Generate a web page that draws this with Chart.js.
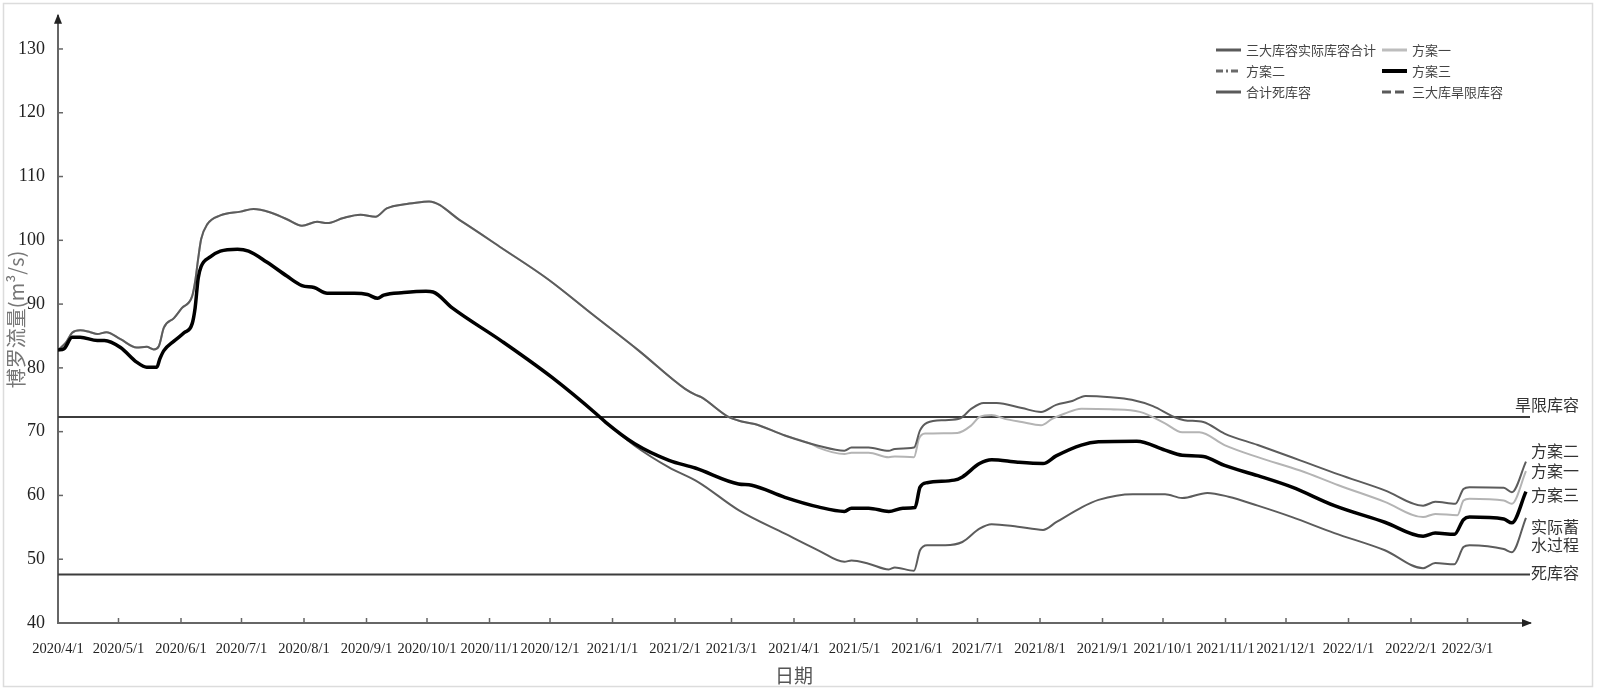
<!DOCTYPE html>
<html>
<head>
<meta charset="utf-8">
<script src="https://cdn.jsdelivr.net/npm/chart.js@4.4.1/dist/chart.umd.min.js"></script>
<style>
  html, body { margin: 0; padding: 0; background: #fff; }
  canvas { display: block; }
</style>
</head>
<body>
<canvas id="storageChart" width="1600" height="691"></canvas>
<script>
// Tick labels on the date axis (month starts)
const monthLabels = ['2020/4/1', '2020/5/1', '2020/6/1', '2020/7/1', '2020/8/1', '2020/9/1',
    '2020/10/1', '2020/11/1', '2020/12/1', '2021/1/1', '2021/2/1', '2021/3/1',
    '2021/4/1', '2021/5/1', '2021/6/1', '2021/7/1', '2021/8/1', '2021/9/1',
    '2021/10/1', '2021/11/1', '2021/12/1', '2022/1/1', '2022/2/1', '2022/3/1'];
const yTickValues = [40, 50, 60, 70, 80, 90, 100, 110, 120, 130];

// Days counted from 2020/4/1
const plan2Days = [0, 4, 7, 11, 16, 19.5, 24, 31, 39, 44, 47.5, 50, 52.5, 57.5, 61.5, 66.5, 68, 69.5, 71, 74,
    80.5, 90.5, 97, 105, 113.5, 121, 128.5, 133.5, 141.5, 150, 157.5, 163, 173, 180.5, 184, 200, 220, 243, 265, 288,
    311, 316, 319, 332.5, 339, 345.5, 360.5, 377, 390, 393.5, 402, 412, 415, 424.5, 427.5, 431, 440, 447.5, 453, 459,
    465.5, 478, 487.5, 495, 503, 509.5, 522, 532.5, 543, 553.5, 558.5, 568, 578.5, 595, 616, 635, 658, 677, 683, 693,
    697, 700, 717, 721, 728];
const plan2Values = [82.8, 84.0, 85.5, 85.9, 85.6, 85.3, 85.6, 84.5, 83.2, 83.3, 82.9, 83.4, 86.3, 87.8, 89.4, 91.2, 93.5, 97.1, 100.2, 102.5,
    103.9, 104.5, 104.9, 104.4, 103.3, 102.3, 102.9, 102.7, 103.5, 104.0, 103.7, 105.0, 105.7, 106.0, 106.1, 103.0, 98.8, 93.9, 88.4, 82.7,
    76.7, 75.8, 75.4, 72.3, 71.6, 71.2, 69.4, 67.8, 67.0, 67.5, 67.5, 67.0, 67.3, 67.5, 70.2, 71.4, 71.8, 72.1, 73.6, 74.5,
    74.5, 73.7, 73.1, 74.2, 74.8, 75.6, 75.4, 75.0, 74.0, 72.3, 71.8, 71.5, 69.7, 67.9, 65.5, 63.3, 60.8, 58.4, 59.0, 58.7,
    61.0, 61.3, 61.2, 60.5, 65.3];

// 方案一 follows 方案二 until spring 2021
const plan1LateDays = [374, 377, 390, 393.5, 402, 412, 415, 424.5, 427, 430, 446, 453, 457, 463, 469.5, 478, 487.5, 493, 499, 507.5,
    522, 536.5, 549, 557.5, 566, 578.5, 595, 616, 635, 658, 677, 683, 694, 697, 700, 717, 721, 728];
const plan1LateValues = [68.0, 67.5, 66.5, 66.7, 66.7, 66.0, 66.1, 66.0, 68.9, 69.7, 69.8, 71.0, 72.3, 72.6, 72.0, 71.5, 71.0, 72.0, 72.8, 73.6,
    73.5, 73.1, 71.3, 69.9, 69.9, 67.9, 66.0, 63.9, 61.6, 59.0, 56.6, 57.1, 56.9, 59.2, 59.5, 59.2, 58.7, 63.8];

const plan3Days = [0, 3, 7, 11, 19.5, 23, 31, 39, 44, 49, 50.5, 52.5, 57.5, 62.5, 66.5, 68, 69.5, 71, 75.5, 80.5,
    89, 94.5, 103.5, 113.5, 121, 127, 133.5, 147, 153.5, 158.5, 161.5, 171.5, 182.5, 186, 195.5, 220, 245, 268, 271.5, 286,
    303, 316, 337.5, 344, 360.5, 377, 390, 393.5, 402, 412, 419, 425, 427.5, 431, 444.5, 448.5, 457, 463, 476, 488.5,
    495, 507.5, 516, 535, 549, 557.5, 568, 578.5, 595, 612, 633, 658, 677, 683, 692.5, 697, 700, 717, 721, 728];
const plan3Values = [82.8, 83.0, 84.8, 84.8, 84.3, 84.3, 83.2, 80.9, 80.1, 80.1, 81.4, 82.7, 84.2, 85.5, 86.9, 89.4, 94.0, 95.9, 97.4, 98.3,
    98.6, 98.3, 96.6, 94.4, 92.9, 92.6, 91.7, 91.7, 91.5, 90.9, 91.4, 91.8, 92.0, 91.9, 89.4, 84.2, 78.5, 72.5, 71.5, 68.1,
    65.5, 64.3, 61.8, 61.6, 59.7, 58.2, 57.5, 58.0, 58.0, 57.5, 58.0, 58.1, 61.3, 62.0, 62.4, 62.9, 65.0, 65.6, 65.2, 65.0,
    66.2, 67.9, 68.4, 68.5, 67.1, 66.3, 66.1, 64.7, 63.1, 61.3, 58.4, 55.8, 53.6, 54.1, 53.9, 56.2, 56.6, 56.3, 55.7, 60.6];

// 实际 follows 方案三 until the end of 2020
const actualLateDays = [286, 303, 317.5, 337.5, 360.5, 377, 390, 393.5, 402, 412, 415, 424.5, 427.5, 431, 440, 448.5, 457, 463, 476, 488.5,
    495, 507.5, 516, 533, 549, 557.5, 570, 580.5, 595, 612, 633, 658, 677, 683, 692.5, 697, 700, 717, 721, 728];
const actualLateValues = [67.8, 64.4, 62.1, 57.7, 54.0, 51.4, 49.6, 49.8, 49.3, 48.4, 48.7, 48.2, 51.4, 52.2, 52.2, 52.7, 54.8, 55.5, 55.1, 54.6,
    55.8, 58.1, 59.3, 60.2, 60.2, 59.6, 60.4, 59.8, 58.4, 56.6, 54.1, 51.4, 48.6, 49.4, 49.2, 51.9, 52.2, 51.6, 51.1, 56.5];

const droughtLevel = 72.3;
const deadLevel = 47.6;
const lastDay = 730;

const plan1Days = plan2Days.slice(0, 47).concat(plan1LateDays);
const plan1Values = plan2Values.slice(0, 47).concat(plan1LateValues);
const actualDays = plan3Days.slice(0, 39).concat(actualLateDays);
const actualValues = plan3Values.slice(0, 39).concat(actualLateValues);

function toPoints(days, values) {
    return days.map((d, i) => ({ x: d, y: values[i] }));
}

function dayOf(label) {
    const p = label.split('/').map(Number);
    return (Date.UTC(p[0], p[1] - 1, p[2]) - Date.UTC(2020, 3, 1)) / 86400000;
}
const monthDays = monthLabels.map(dayOf);

document.addEventListener('DOMContentLoaded', function() {
    const ctx = document.getElementById('storageChart');

    // Marco, flechas, marcas internas, leyenda y etiquetas finales
    const decorPlugin = {
        id: 'decor',
        beforeDraw(chart) {
            const c = chart.ctx;
            c.save();
            c.fillStyle = '#fff';
            c.fillRect(0, 0, chart.width, chart.height);
            c.strokeStyle = '#dcdcdc';
            c.lineWidth = 1.5;
            c.strokeRect(3.5, 3.5, 1589, 683);
            c.restore();
        },
        afterDraw(chart) {
            const c = chart.ctx;
            const a = chart.chartArea;
            const xs = chart.scales.x;
            const ys = chart.scales.y;
            c.save();

            // tick marks pointing into the plot
            c.strokeStyle = '#666';
            c.lineWidth = 1.5;
            ys.ticks.forEach(t => {
                if (t.value === 40) return;
                const py = ys.getPixelForValue(t.value);
                c.beginPath();
                c.moveTo(a.left, py);
                c.lineTo(a.left + 5, py);
                c.stroke();
            });
            xs.ticks.forEach(t => {
                if (t.value === 0) return;
                const px = xs.getPixelForValue(t.value);
                c.beginPath();
                c.moveTo(px, a.bottom);
                c.lineTo(px, a.bottom - 5);
                c.stroke();
            });

            // arrow heads
            c.fillStyle = '#222';
            c.beginPath();
            c.moveTo(a.left, a.top - 2);
            c.lineTo(a.left - 4, a.top + 8);
            c.lineTo(a.left + 4, a.top + 8);
            c.closePath();
            c.fill();
            c.beginPath();
            c.moveTo(a.right + 2, a.bottom);
            c.lineTo(a.right - 8, a.bottom - 4);
            c.lineTo(a.right - 8, a.bottom + 4);
            c.closePath();
            c.fill();

            // legend
            const legendItems = [
                { text: '三大库容实际库容合计', color: '#5a5a5a', width: 3, dash: [], x: 1216, y: 50 },
                { text: '方案一', color: '#bdbdbd', width: 3, dash: [], x: 1382, y: 50 },
                { text: '方案二', color: '#6a6a6a', width: 3, dash: [7, 3, 2, 3], x: 1216, y: 71 },
                { text: '方案三', color: '#000', width: 4, dash: [], x: 1382, y: 71 },
                { text: '合计死库容', color: '#5a5a5a', width: 3, dash: [], x: 1216, y: 92 },
                { text: '三大库旱限库容', color: '#5a5a5a', width: 3, dash: [9, 4], x: 1382, y: 92 }
            ];
            c.font = '13px "Noto Sans CJK SC"';
            c.textBaseline = 'middle';
            c.textAlign = 'left';
            legendItems.forEach(item => {
                c.strokeStyle = item.color;
                c.lineWidth = item.width;
                c.setLineDash(item.dash);
                c.beginPath();
                c.moveTo(item.x, item.y);
                c.lineTo(item.x + 25, item.y);
                c.stroke();
                c.setLineDash([]);
                c.fillStyle = '#444';
                c.fillText(item.text, item.x + 30, item.y);
            });

            // labels at the right end of the lines
            const endLabels = [
                ['旱限库容', 405], ['方案二', 451], ['方案一', 471], ['方案三', 495],
                ['实际蓄', 527], ['水过程', 545], ['死库容', 573]
            ];
            c.font = '16px "Noto Sans CJK SC"';
            c.textAlign = 'right';
            c.fillStyle = '#333';
            endLabels.forEach(l => c.fillText(l[0], 1579, l[1]));

            c.restore();
        }
    };

    const lineBase = {
        pointRadius: 0,
        pointHoverRadius: 0,
        fill: false,
        cubicInterpolationMode: 'monotone'
    };

    new Chart(ctx, {
        type: 'line',
        data: {
            datasets: [
                Object.assign({ label: '方案三', data: toPoints(plan3Days, plan3Values), borderColor: '#000', borderWidth: 3.5 }, lineBase),
                Object.assign({ label: '方案二', data: toPoints(plan2Days, plan2Values), borderColor: '#5c5c5c', borderWidth: 2 }, lineBase),
                Object.assign({ label: '方案一', data: toPoints(plan1Days, plan1Values), borderColor: '#b4b4b4', borderWidth: 2 }, lineBase),
                Object.assign({ label: '三大库容实际库容合计', data: toPoints(actualDays, actualValues), borderColor: '#5c5c5c', borderWidth: 2 }, lineBase),
                Object.assign({ label: '合计死库容', data: [{ x: 0, y: deadLevel }, { x: lastDay, y: deadLevel }], borderColor: '#3c3c3c', borderWidth: 2 }, lineBase),
                Object.assign({ label: '三大库旱限库容', data: [{ x: 0, y: droughtLevel }, { x: lastDay, y: droughtLevel }], borderColor: '#3c3c3c', borderWidth: 2 }, lineBase)
            ]
        },
        options: {
            responsive: false,
            animation: false,
            devicePixelRatio: 1,
            layout: { padding: { left: 0, top: 15, right: 70, bottom: 0 } },
            plugins: {
                legend: { display: false },
                tooltip: { enabled: false }
            },
            scales: {
                x: {
                    type: 'linear',
                    min: 0,
                    max: lastDay,
                    grid: { display: false },
                    border: { display: true, color: '#666', width: 2 },
                    afterBuildTicks: scale => { scale.ticks = monthDays.map(v => ({ value: v })); },
                    afterFit: scale => { scale.height = 68; },
                    ticks: {
                        autoSkip: false,
                        maxRotation: 0,
                        padding: 9,
                        color: '#222',
                        font: { family: '"Liberation Serif"', size: 14.5 },
                        callback: v => monthLabels[monthDays.indexOf(v)] || ''
                    },
                    title: {
                        display: true,
                        text: '日期',
                        color: '#555',
                        font: { family: '"Noto Sans CJK SC"', size: 19 },
                        padding: { top: 0, bottom: 4 }
                    }
                },
                y: {
                    min: 40,
                    max: 135.2,
                    grid: { display: false },
                    border: { display: true, color: '#666', width: 2 },
                    afterBuildTicks: scale => { scale.ticks = yTickValues.map(v => ({ value: v })); },
                    afterFit: scale => { scale.width = 58; },
                    ticks: {
                        padding: 5,
                        color: '#222',
                        font: { family: '"Liberation Serif"', size: 18 }
                    },
                    title: {
                        display: true,
                        text: '博罗流量(m³/s)',
                        color: '#777',
                        font: { family: '"Noto Sans CJK SC"', size: 20 },
                        padding: { top: 4, bottom: 0 }
                    }
                }
            }
        },
        plugins: [decorPlugin]
    });
});
</script>
</body>
</html>
